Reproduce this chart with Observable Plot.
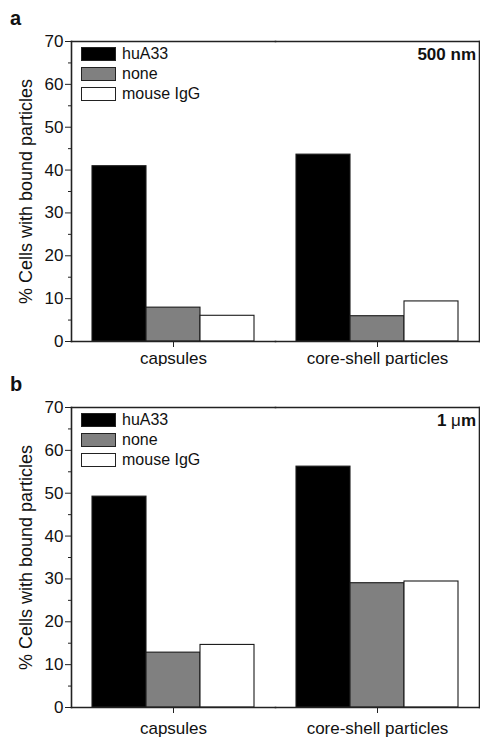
<!DOCTYPE html>
<html>
<head>
<meta charset="utf-8">
<script src="https://cdn.jsdelivr.net/npm/d3@7"></script>
<script src="https://cdn.jsdelivr.net/npm/@observablehq/plot@0.6"></script>
<style>
  html, body { margin: 0; padding: 0; background: #fff; }
  body { width: 480px; height: 738px; overflow: hidden; font-family: "Liberation Sans", Arial, sans-serif; color: #111; }
  .panel { position: relative; width: 480px; height: 366px; }
  .panel svg { display: block; }
  .letter { position: absolute; left: 10px; top: 8px; font: bold 20px/20px "Liberation Sans", Arial, sans-serif; }
  .size { position: absolute; right: 4px; top: 46px; font: bold 17px/17px "Liberation Sans", Arial, sans-serif; }
  .size .mu { font-weight: normal; }
  .legend { position: absolute; left: 81px; top: 47px; font: 16px/16px "Liberation Sans", Arial, sans-serif; }
  .legend .row { display: flex; align-items: center; height: 14px; margin-bottom: 6px; }
  .legend .sw { width: 33px; height: 12px; border: 1px solid #222; margin-right: 6px; }
</style>
</head>
<body>
<div id="chart"></div>
<script>
// ---- data ----
const categories = ["capsules", "core-shell particles"];
const series = ["huA33", "none", "mouse IgG"];
const seriesColors = ["#000000", "#808080", "#ffffff"];
const yMajorTicks = [0, 10, 20, 30, 40, 50, 60, 70];
const yMinorTicks = [5, 15, 25, 35, 45, 55, 65];
const yLabel = "% Cells with bound particles";
const panelLetters = ["a", "b"];
const sizeLabels = ["500 nm", "1 μm"];

// panel a: 500 nm
const huA33_500nm = [40.9, 43.6];
const none_500nm = [7.9, 5.9];
const mouseIgG_500nm = [6.0, 9.35];
// panel b: 1 μm
const huA33_1um = [49.2, 56.2];
const none_1um = [12.8, 29.0];
const mouseIgG_1um = [14.6, 29.4];

const panels = [
  {letter: panelLetters[0], size: sizeLabels[0], values: [huA33_500nm, none_500nm, mouseIgG_500nm]},
  {letter: panelLetters[1], size: sizeLabels[1], values: [huA33_1um, none_1um, mouseIgG_1um]}
];

const root = document.getElementById("chart");
const font = '"Liberation Sans", Arial, sans-serif';

panels.forEach((p, pi) => {
  const rows = categories.flatMap((c, i) => series.map((s, j) => ({category: c, series: s, value: p.values[j][i]})));
  const div = document.createElement("div");
  div.className = "panel";
  const chart = Plot.plot({
    width: 480,
    height: 366,
    marginLeft: 71,
    marginRight: 1,
    marginTop: 41,
    marginBottom: 25,
    style: {fontFamily: font, fontSize: "17px", color: "#111", background: "white", overflow: "visible"},
    fx: {domain: categories, padding: 0, label: null, axis: null},
    x: {domain: series, paddingInner: 0, paddingOuter: 0.355, axis: null},
    y: {domain: [0, 70], axis: null},
    color: {domain: series, range: seriesColors},
    marks: [
      Plot.barY(rows, {fx: "category", x: "series", y: "value", fill: "series", stroke: "#1a1a1a", strokeWidth: 1.1, inset: 0}),
      Plot.frame({anchor: "top", stroke: "#222", strokeWidth: 1.6}),
      Plot.frame({anchor: "bottom", stroke: "#222", strokeWidth: 1.6}),
      Plot.frame({anchor: "left", facetAnchor: "left", stroke: "#222", strokeWidth: 1.6}),
      Plot.frame({anchor: "right", facetAnchor: "right", stroke: "#222", strokeWidth: 1.6}),
      Plot.axisY({ticks: yMajorTicks, tickSize: 6, tickPadding: 2, fontSize: 17, label: null, stroke: "#222"}),
      Plot.axisY({ticks: yMinorTicks, tickSize: 3, tickFormat: () => "", label: yLabel, labelAnchor: "center", labelArrow: "none", labelOffset: 52, fontSize: 18, stroke: "#222"}),
      Plot.axisFx({anchor: "bottom", tickSize: 6, tickPadding: pi === 0 ? 4 : 8, fontSize: 17, label: null, stroke: "#222"})
    ]
  });
  div.appendChild(chart);

  const letter = document.createElement("div");
  letter.className = "letter";
  letter.textContent = p.letter;
  div.appendChild(letter);

  const size = document.createElement("div");
  size.className = "size";
  if (p.size.includes("μ")) {
    const [num, unit] = p.size.split(" ");
    size.innerHTML = num + " <span class='mu'>" + unit[0] + "</span>" + unit.slice(1);
  } else {
    size.textContent = p.size;
  }
  div.appendChild(size);

  const legend = document.createElement("div");
  legend.className = "legend";
  series.forEach((s, j) => {
    const r = document.createElement("div");
    r.className = "row";
    const sw = document.createElement("div");
    sw.className = "sw";
    sw.style.background = seriesColors[j];
    const t = document.createElement("span");
    t.textContent = s;
    r.appendChild(sw);
    r.appendChild(t);
    legend.appendChild(r);
  });
  div.appendChild(legend);

  root.appendChild(div);
});
</script>
</body>
</html>
